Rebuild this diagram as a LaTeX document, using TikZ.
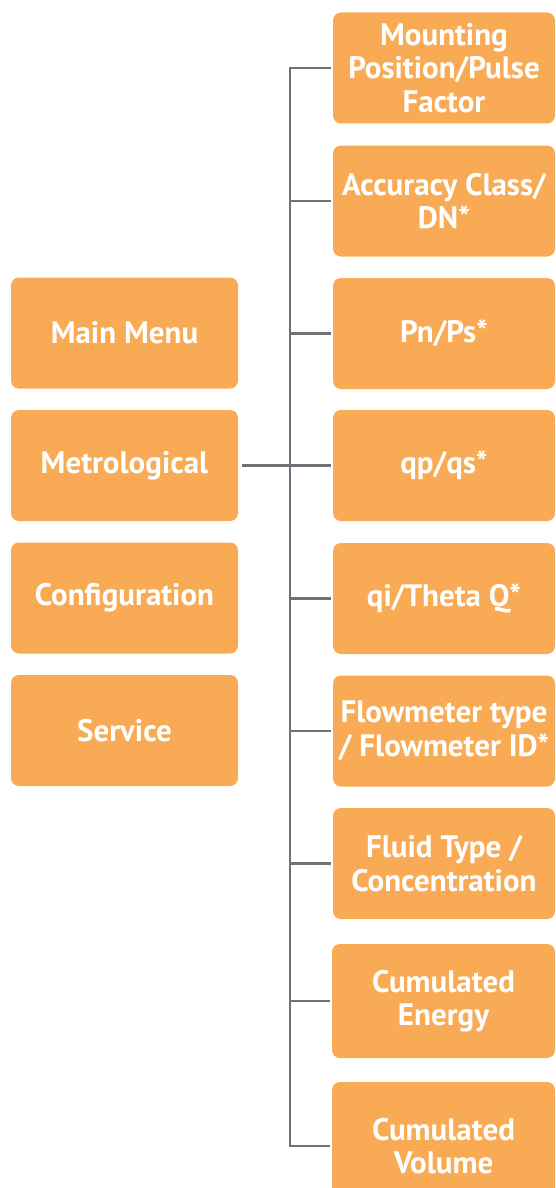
\documentclass[tikz,border=0pt]{standalone}
\usepackage{fontspec}
\setmainfont{PT Sans}
\definecolor{menuorange}{RGB}{248,170,84}
\definecolor{linegray}{RGB}{109,114,120}
\usetikzlibrary{positioning,calc}

\tikzset{
  menubox/.style={rounded corners=8pt, fill=menuorange, text=white, align=center,
    font=\bfseries\fontsize{31}{33.5}\selectfont, inner sep=0pt, minimum height=111pt},
  leftbox/.style={menubox, minimum width=227pt},
  rightbox/.style={menubox, minimum width=222pt},
  link/.style={draw=linegray, line width=2.6pt}
}

\begin{document}
\begin{tikzpicture}[x=1pt,y=-1pt]
  \useasboundingbox (0,0) rectangle (555,1188);
  \clip (0,0) rectangle (555,1188);

  % left column
  \node[leftbox] (mainmenu) at (124.5,333) {Main Menu};
  \node[leftbox] (metro) at (124.5,465.5) {Metrological};
  \node[leftbox] (config) at (124.5,598) {Configuration};
  \node[leftbox] (service) at (124.5,730.5) {Service};

  % right column
  \node[rightbox] (mount) at (444,68) {Mounting\\Position/Pulse\\Factor};
  \node[rightbox] (acc) at (444,201) {Accuracy Class/\\DN*};
  \node[rightbox] (pn) at (444,333.5) {Pn/Ps*};
  \node[rightbox] (qp) at (444,465.5) {qp/qs*};
  \node[rightbox] (qi) at (444,598.5) {qi/Theta Q*};
  \node[rightbox] (flow) at (444,731) {Flowmeter type\\/ Flowmeter ID*};
  \node[rightbox] (fluid) at (444,863.5) {Fluid Type /\\Concentration};
  \node[rightbox, minimum width=223pt, minimum height=114pt] (energy) at (443.5,1001) {Cumulated\\Energy};
  \node[rightbox, minimum width=223pt, minimum height=128pt] (volume) at (443.5,1146) {Cumulated\\Volume};

  \coordinate (trunk) at (290,0);

  % connectors
  \draw[link] ([xshift=-2pt]mount.west) -| (trunk |- volume.west) -- ([xshift=-2pt]volume.west);
  \foreach \n in {acc,pn,qi,flow,fluid,energy}
    \draw[link] ([xshift=-2pt]\n.west) -- (\n.west -| trunk);
  \draw[link] ([xshift=4pt]metro.east) -- ([xshift=-2pt]qp.west);
\end{tikzpicture}
\end{document}
